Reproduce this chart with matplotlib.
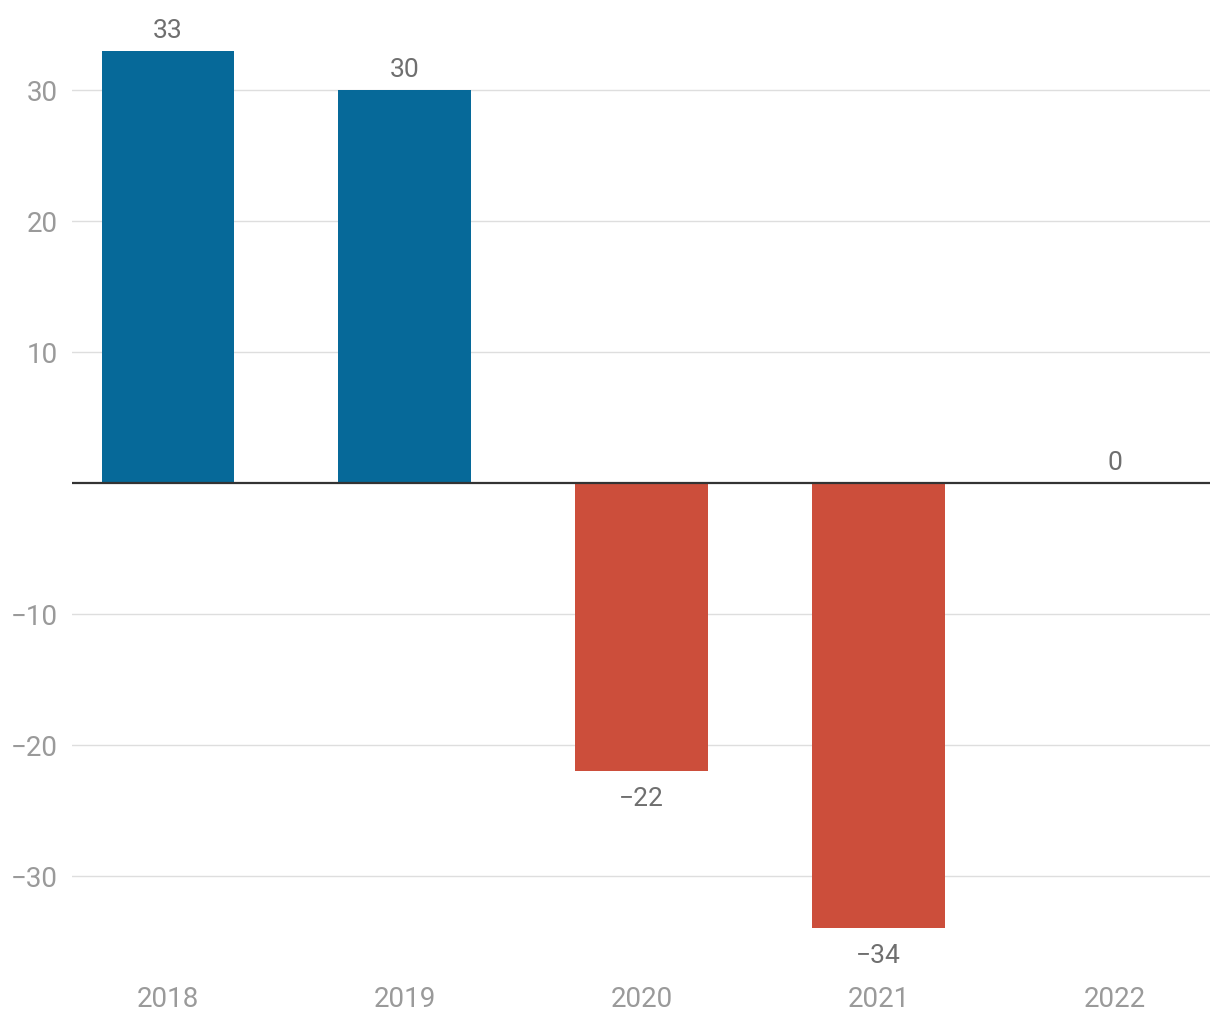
import matplotlib.pyplot as plt

plt.rcParams['font.family'] = ['Roboto', 'DejaVu Sans']

years = ['2018', '2019', '2020', '2021', '2022']
values = [33, 30, -22, -34, 0]
yticks = [-30, -20, -10, 10, 20, 30]

blue = '#066999'
red = '#cc4e3b'
colors = [blue if v >= 0 else red for v in values]

fig = plt.figure(figsize=(12.2, 10.2), dpi=100)
ax = fig.add_axes([72 / 1220, 1 - 950 / 1020, (1210 - 72) / 1220, 950 / 1020])

x = list(range(len(years)))
ax.bar(x, values, width=0.56, color=colors, zorder=2)
ax.axhline(0, color='#333333', lw=1.6, zorder=3)

for xi, v in zip(x, values):
    if v >= 0:
        ax.annotate(str(v), (xi, v), xytext=(0, 6.5), textcoords='offset points',
                    ha='center', va='bottom', fontsize=19, color='#6f6f6f')
    else:
        ax.annotate('\u2212' + str(-v), (xi, v), xytext=(0, -10.5), textcoords='offset points',
                    ha='center', va='top', fontsize=19, color='#6f6f6f')

ax.set_xlim(-0.405, 4.40)
ax.set_ylim(-35.58, 36.94)
ax.set_yticks(yticks)
ax.set_yticklabels([('\u2212' + str(-t)) if t < 0 else str(t) for t in yticks])
ax.set_xticks(x)
ax.set_xticklabels(years)
ax.tick_params(axis='both', length=0, labelsize=20, colors='#9a9a9a')
ax.tick_params(axis='y', pad=10)
ax.tick_params(axis='x', pad=26)
ax.grid(axis='y', color='#dedede', lw=1, zorder=0)
for s in ax.spines.values():
    s.set_visible(False)

fig.savefig('out.png', dpi=100)
